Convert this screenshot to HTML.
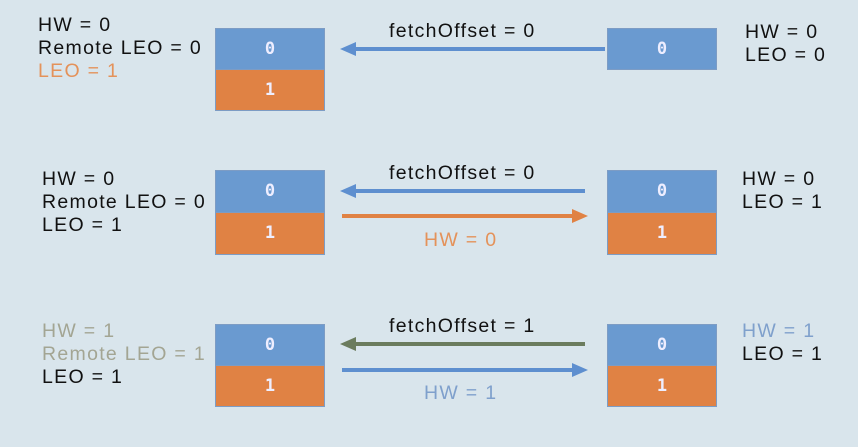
<!DOCTYPE html>
<html><head><meta charset="utf-8"><style>
body{margin:0;width:858px;height:447px;background:#d9e5ec;position:relative;overflow:hidden;font-family:"Liberation Sans",sans-serif}
.t{position:absolute;font-size:19.5px;line-height:23px;color:#111;white-space:nowrap;letter-spacing:1.3px}
.b{position:absolute;width:110px;box-sizing:border-box;border:1px solid #7d9cc4;color:#eef;font-weight:bold;font-size:17px;text-align:center;font-family:"DejaVu Sans Mono",monospace}
.bl{background:#6a9ad0}.or{background:#e08244}
.g{color:#a3a593}.o{color:#e4925a}.lb{color:#7fa0cc}
svg{position:absolute;left:0;top:0}
</style></head><body>
<svg width="858" height="447">
<defs>
<marker id="ab" markerWidth="16" markerHeight="14" refX="4" refY="7" orient="auto" markerUnits="userSpaceOnUse"><path d="M0,0L16,7L0,14z" fill="#5e8fcf"/></marker>
<marker id="ao" markerWidth="16" markerHeight="14" refX="4" refY="7" orient="auto" markerUnits="userSpaceOnUse"><path d="M0,0L16,7L0,14z" fill="#e08244"/></marker>
<marker id="ag" markerWidth="16" markerHeight="14" refX="4" refY="7" orient="auto" markerUnits="userSpaceOnUse"><path d="M0,0L16,7L0,14z" fill="#6b7c5e"/></marker>
</defs>
<line x1="605" y1="49" x2="352" y2="49" stroke="#5e8fcf" stroke-width="4" marker-end="url(#ab)"/>
<line x1="585" y1="191" x2="352" y2="191" stroke="#5e8fcf" stroke-width="4" marker-end="url(#ab)"/>
<line x1="342" y1="216" x2="576" y2="216" stroke="#e08244" stroke-width="4" marker-end="url(#ao)"/>
<line x1="585" y1="344" x2="352" y2="344" stroke="#6b7c5e" stroke-width="4" marker-end="url(#ag)"/>
<line x1="342" y1="370" x2="576" y2="370" stroke="#5e8fcf" stroke-width="4" marker-end="url(#ab)"/>
</svg>

<div class="t" style="left:38px;top:14px">HW = 0<br>Remote LEO = 0<br><span class="o">LEO = 1</span></div>
<div class="b bl" style="left:215px;top:28px;height:42px;line-height:40px">0</div>
<div class="b or" style="left:215px;top:69px;height:42px;line-height:40px">1</div>
<div class="t" style="left:389px;top:20px">fetchOffset = 0</div>
<div class="b bl" style="left:607px;top:28px;height:42px;line-height:40px">0</div>
<div class="t" style="left:745px;top:21px">HW = 0<br>LEO = 0</div>

<div class="t" style="left:42px;top:168px">HW = 0<br>Remote LEO = 0<br>LEO = 1</div>
<div class="b bl" style="left:215px;top:170px;height:43px;line-height:41px">0</div>
<div class="b or" style="left:215px;top:212px;height:43px;line-height:41px">1</div>
<div class="t" style="left:389px;top:162px">fetchOffset = 0</div>
<div class="t o" style="left:424px;top:229px">HW = 0</div>
<div class="b bl" style="left:607px;top:170px;height:43px;line-height:41px">0</div>
<div class="b or" style="left:607px;top:212px;height:43px;line-height:41px">1</div>
<div class="t" style="left:742px;top:168px">HW = 0<br>LEO = 1</div>

<div class="t" style="left:42px;top:320px"><span class="g">HW = 1</span><br><span class="g">Remote LEO = 1</span><br>LEO = 1</div>
<div class="b bl" style="left:215px;top:324px;height:42px;line-height:40px">0</div>
<div class="b or" style="left:215px;top:365px;height:42px;line-height:40px">1</div>
<div class="t" style="left:389px;top:315px">fetchOffset = 1</div>
<div class="t lb" style="left:424px;top:382px">HW = 1</div>
<div class="b bl" style="left:607px;top:324px;height:42px;line-height:40px">0</div>
<div class="b or" style="left:607px;top:365px;height:42px;line-height:40px">1</div>
<div class="t" style="left:742px;top:320px"><span class="lb">HW = 1</span><br>LEO = 1</div>
</body></html>
